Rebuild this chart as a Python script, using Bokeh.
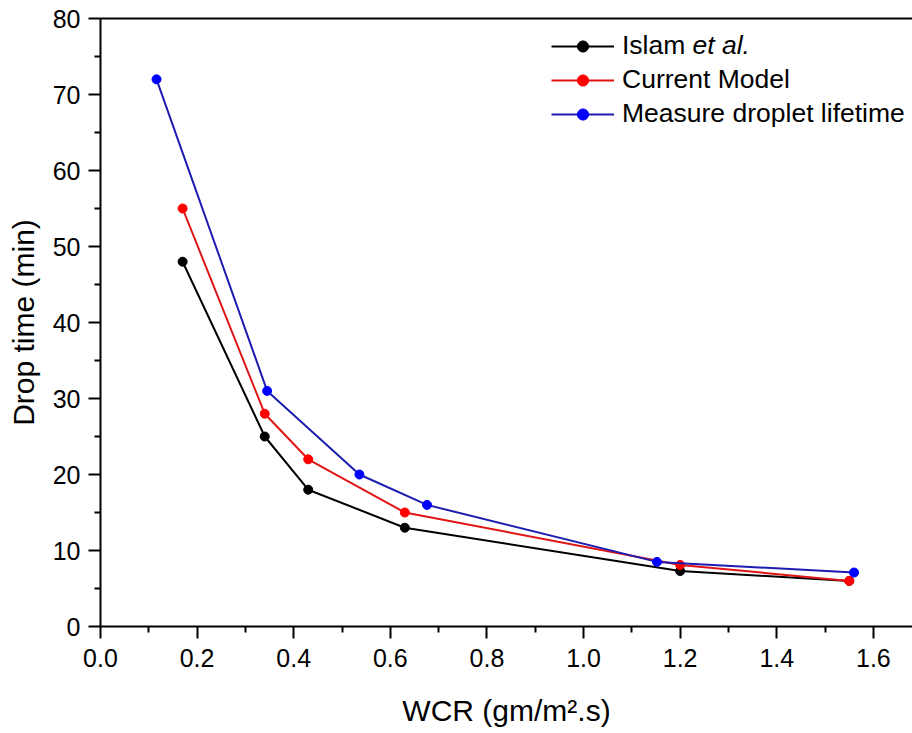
from bokeh.plotting import figure
from bokeh.models import (Range1d, FixedTicker, LinearAxis, Legend, LegendItem,
                          PrintfTickFormatter, Label)
from bokeh.embed import file_html
from bokeh.resources import INLINE

# ---- data ----
islam_x = [0.17, 0.34, 0.43, 0.63, 1.20, 1.55]
islam_y = [48.0, 25.0, 18.0, 13.0, 7.3, 6.0]
model_x = [0.17, 0.34, 0.43, 0.63, 1.20, 1.55]
model_y = [55.0, 28.0, 22.0, 15.0, 8.1, 6.0]
measure_x = [0.116, 0.345, 0.536, 0.676, 1.152, 1.56]
measure_y = [72.0, 31.0, 20.0, 16.0, 8.5, 7.1]

x_ticks = [0.0, 0.2, 0.4, 0.6, 0.8, 1.0, 1.2, 1.4, 1.6]
x_minor = [0.1, 0.3, 0.5, 0.7, 0.9, 1.1, 1.3, 1.5]
y_ticks = [0, 10, 20, 30, 40, 50, 60, 70, 80]
y_minor = [5, 15, 25, 35, 45, 55, 65, 75]

series = [
    ("Islam", islam_x, islam_y, "#000000", "#000000"),
    ("Current Model", model_x, model_y, "#e01414", "#ff0000"),
    ("Measure droplet lifetime", measure_x, measure_y, "#1c1cb0", "#0000ff"),
]

FONT = "Liberation Sans"
LEG_FS = 26.5

p = figure(width=912, height=733,
           x_range=Range1d(0, 1.681), y_range=Range1d(0, 80),
           output_backend="svg", toolbar_location=None,
           min_border_left=100, min_border_right=0,
           min_border_top=18, min_border_bottom=107)
p.outline_line_color = None
p.grid.visible = False
p.background_fill_color = "white"
p.border_fill_color = "white"

for ax in (p.xaxis[0], p.yaxis[0]):
    ax.axis_line_width = 2
    ax.axis_line_color = "black"
    ax.major_tick_line_width = 2
    ax.minor_tick_line_width = 2
    ax.major_tick_in = 0
    ax.major_tick_out = 12
    ax.minor_tick_in = 0
    ax.minor_tick_out = 6
    ax.major_label_text_font = FONT
    ax.major_label_text_font_size = "25px"
    ax.major_label_text_color = "black"
    ax.axis_label_text_font = FONT
    ax.axis_label_text_font_size = "30px"
    ax.axis_label_text_font_style = "normal"
    ax.axis_label_text_color = "black"

p.xaxis[0].major_label_standoff = 10
p.yaxis[0].major_label_standoff = 8
p.xaxis[0].ticker = FixedTicker(ticks=x_ticks, minor_ticks=x_minor)
p.xaxis[0].formatter = PrintfTickFormatter(format="%.1f")
p.yaxis[0].ticker = FixedTicker(ticks=y_ticks, minor_ticks=y_minor)
p.xaxis[0].axis_label = "WCR (gm/m\u00b2.s)"
p.yaxis[0].axis_label = "Drop time (min)"
p.xaxis[0].axis_label_standoff = 24
p.yaxis[0].axis_label_standoff = 10

top = LinearAxis(ticker=FixedTicker(ticks=[]), axis_line_width=2,
                 major_tick_out=0, major_tick_in=0, minor_tick_out=0, minor_tick_in=0,
                 major_label_standoff=0, major_label_text_font_size="0px")
p.add_layout(top, "above")

items = []
for label, xs, ys, lc, mc in series:
    lr = p.line(xs, ys, line_color=lc, line_width=2)
    sr = p.scatter(xs, ys, size=9, fill_color=mc, line_color=mc)
    items.append(LegendItem(label=label, renderers=[lr, sr]))

# legend bottom-left corner, in px from the frame's bottom-left
legend = Legend(items=items, location=(451, 497))
legend.border_line_color = None
legend.background_fill_alpha = 0
legend.label_text_font = FONT
legend.label_text_font_size = f"{LEG_FS}px"
legend.label_text_color = "black"
legend.glyph_width = 63
legend.glyph_height = 28
legend.label_height = 28
legend.label_standoff = 8
legend.spacing = 3
legend.padding = 4
legend.margin = 0
p.add_layout(legend)

# italic part of the first legend entry
p.add_layout(Label(x=592, y=582, x_units="screen", y_units="screen",
                   text="et al.", text_font=FONT, text_font_size=f"{LEG_FS}px",
                   text_font_style="italic", text_color="black",
                   text_baseline="middle", text_align="left"))

open("out.html", "w").write(file_html(p, INLINE))
